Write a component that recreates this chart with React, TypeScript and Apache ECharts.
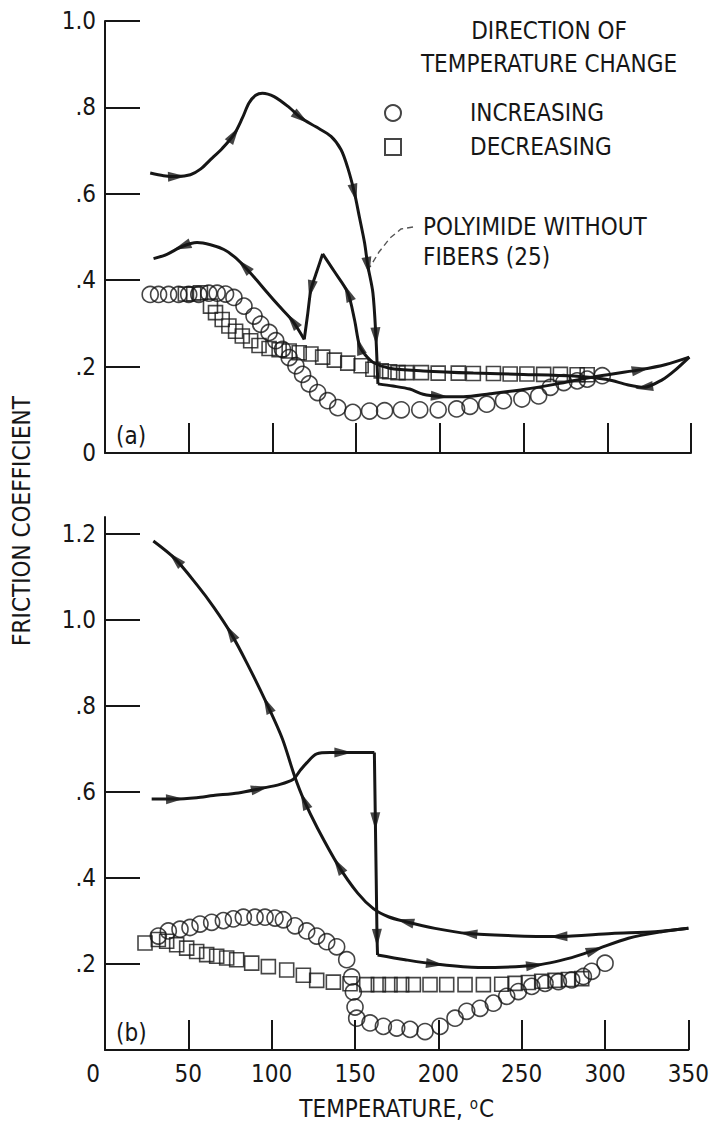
import React, { useEffect, useRef } from "react";
import * as echarts from "echarts";

// ---------- DATA ----------
// X axis (temperature, °C)
const xMin = 0;
const xMax = 350;
const xStep = 50;
// Y ticks
const yTicksA = [0, 0.2, 0.4, 0.6, 0.8, 1.0];
const yTicksB = [0, 0.2, 0.4, 0.6, 0.8, 1.0, 1.2];

// Panel (a) — open circles (temperature increasing)
const circA_T = [27, 32, 38, 44, 50, 56, 62, 67, 72, 77, 83, 89, 93, 98, 102, 106, 110, 114, 118, 122, 127, 133, 139, 148, 158, 167, 177, 188, 199, 210, 218, 228, 238, 249, 259, 266, 274, 282, 288, 297];
const circA_mu = [0.367, 0.367, 0.367, 0.367, 0.367, 0.367, 0.37, 0.37, 0.368, 0.36, 0.34, 0.317, 0.298, 0.279, 0.26, 0.24, 0.221, 0.202, 0.182, 0.16, 0.14, 0.121, 0.105, 0.094, 0.097, 0.098, 0.1, 0.1, 0.1, 0.102, 0.108, 0.113, 0.121, 0.125, 0.132, 0.152, 0.163, 0.167, 0.171, 0.179];
// Panel (a) — open squares (temperature decreasing)
const sqA_T = [48, 53, 57, 63, 66, 70, 74, 78, 82, 87, 92, 98, 104, 110, 116, 123, 130, 137, 145, 153, 160, 165, 170, 175, 180, 189, 199, 211, 220, 232, 242, 252, 262, 272, 282, 288];
const sqA_mu = [0.368, 0.368, 0.371, 0.34, 0.325, 0.309, 0.294, 0.282, 0.271, 0.26, 0.249, 0.242, 0.239, 0.236, 0.232, 0.229, 0.222, 0.215, 0.208, 0.202, 0.194, 0.19, 0.188, 0.186, 0.186, 0.186, 0.185, 0.185, 0.184, 0.184, 0.183, 0.183, 0.182, 0.182, 0.181, 0.181];

// Panel (a) — polyimide without fibers, path pieces in travel order
const aIncRise = [[27, 0.648], [35, 0.642], [43, 0.64], [51, 0.644], [57, 0.657], [63, 0.679], [70, 0.705], [77, 0.737], [82, 0.775], [86, 0.81], [90, 0.828], [94, 0.833], [101, 0.825], [110, 0.8], [117, 0.776], [126, 0.755], [135, 0.733], [141, 0.702], [145, 0.66], [149, 0.602], [152, 0.545], [155, 0.487], [157, 0.433], [160, 0.371], [161.8, 0.27], [162.8, 0.179], [163, 0.16]];
const aIncFlat = [[163, 0.16], [172, 0.155], [182, 0.148], [190, 0.136], [200, 0.131], [214, 0.13], [230, 0.137], [250, 0.147], [270, 0.16], [290, 0.175], [305, 0.184], [320, 0.193], [335, 0.205], [349, 0.222]];
const aDecReturn = [[349, 0.222], [340, 0.19], [333, 0.17], [322, 0.152], [312, 0.158], [300, 0.17], [280, 0.178], [250, 0.182], [220, 0.185], [190, 0.19], [170, 0.196], [160, 0.21], [155, 0.229]];
const aDecRightLeg = [[155, 0.229], [152, 0.248], [149, 0.309], [145, 0.371], [137, 0.42], [130, 0.461]];
const aDecLeftLeg = [[130, 0.461], [126.5, 0.42], [123, 0.379], [121, 0.32], [119, 0.263]];
const aDecLower = [[119, 0.263], [112, 0.306], [104, 0.34], [97, 0.371], [90, 0.403], [83, 0.433], [77, 0.455], [71, 0.471], [63, 0.482], [55, 0.487], [46, 0.478], [37, 0.46], [29, 0.45]];

// Panel (b) — open circles (increasing)
const circB_T = [32, 38, 45, 51, 57, 64, 71, 77, 83, 90, 96, 102, 107, 114, 121, 127, 133, 139, 145, 148, 149, 150, 151, 159, 167, 175, 183, 192, 201, 210, 217, 225, 233, 241, 248, 256, 264, 272, 280, 287, 292, 300];
const circB_mu = [0.265, 0.277, 0.281, 0.285, 0.293, 0.297, 0.301, 0.305, 0.309, 0.309, 0.309, 0.307, 0.303, 0.289, 0.277, 0.265, 0.252, 0.24, 0.21, 0.17, 0.135, 0.1, 0.074, 0.063, 0.055, 0.051, 0.048, 0.043, 0.055, 0.074, 0.09, 0.097, 0.109, 0.125, 0.136, 0.148, 0.155, 0.159, 0.163, 0.171, 0.183, 0.202];
// Panel (b) — open squares (decreasing)
const sqB_T = [24, 32, 37, 43, 49, 55, 61, 67, 73, 79, 88, 98, 109, 119, 127, 137, 147, 157, 164, 171, 178, 185, 195, 205, 216, 227, 238, 246, 254, 262, 270, 278, 286];
const sqB_mu = [0.249, 0.257, 0.253, 0.245, 0.237, 0.229, 0.222, 0.218, 0.214, 0.21, 0.202, 0.194, 0.186, 0.174, 0.162, 0.158, 0.154, 0.152, 0.152, 0.152, 0.152, 0.152, 0.152, 0.152, 0.152, 0.152, 0.153, 0.155, 0.157, 0.16, 0.162, 0.164, 0.166];

// Panel (b) — line path pieces
const bIncLeft = [[28, 0.584], [42, 0.584], [55, 0.587], [65, 0.592], [80, 0.598], [93, 0.608], [105, 0.618], [113, 0.63], [117, 0.65], [121, 0.668], [127, 0.689], [135, 0.692], [143, 0.692], [161.6, 0.692]];
const bIncDrop = [[161.6, 0.692], [162.2, 0.532], [162.7, 0.4], [163.2, 0.261], [163.5, 0.221]];
const bIncFlat = [[163.5, 0.221], [180, 0.21], [198, 0.2], [224, 0.192], [258, 0.197], [280, 0.215], [294, 0.233], [314, 0.26], [334, 0.275], [350, 0.283]];
const bDec = [[350, 0.283], [330, 0.275], [304, 0.271], [272, 0.264], [244, 0.266], [218, 0.271], [198, 0.283], [180, 0.299], [170, 0.31], [161, 0.329], [151.6, 0.365], [140, 0.429], [127.5, 0.516], [119.5, 0.58], [113.5, 0.64], [106.4, 0.724], [97.4, 0.803], [85.3, 0.899], [75.3, 0.971], [65.3, 1.03], [55.2, 1.082], [42.2, 1.142], [29, 1.184]];

// Arrowheads: vertex indices along each path piece
const arrowsA = [
  { path: aIncRise, at: [2, 7, 14, 19, 22, 24] },
  { path: aIncFlat, at: [4, 11] },
  { path: aDecReturn, at: [3] },
  { path: aDecRightLeg, at: [1, 3] },
  { path: aDecLeftLeg, at: [2] },
  { path: aDecLower, at: [1, 5, 10] },
];
const arrowsB = [
  { path: bIncLeft, at: [1, 5, 12] },
  { path: bIncDrop, at: [1, 3] },
  { path: bIncFlat, at: [2, 4, 6] },
  { path: bDec, at: [3, 5, 7, 11, 13, 16, 18, 21] },
];

// ---------- STYLE ----------
const INK = "#161616";
const FONT = "'Liberation Sans Narrow','DejaVu Sans Condensed','Roboto Condensed','Liberation Sans',sans-serif";

const zip = (a: number[], b: number[]) => a.map((v, i) => [v, b[i]]);

function yLabel(hideZero: boolean) {
  return (v: number) => {
    if (v === 0) return hideZero ? "" : "0";
    if (v < 1) return "." + Math.round(v * 10);
    return v.toFixed(1);
  };
}

function xAxisCfg(g: number, labels: boolean) {
  return {
    type: "value",
    gridIndex: g,
    min: xMin,
    max: xMax,
    interval: xStep,
    axisLine: { lineStyle: { color: INK, width: 2 } },
    axisTick: { inside: true, length: 30, lineStyle: { color: INK, width: 2 } },
    splitLine: { show: false },
    axisLabel: labels
      ? {
          show: true,
          color: INK,
          fontSize: 24,
          fontFamily: FONT,
          margin: 12,
          formatter: (v: number) => (v === 0 ? "{z|0}" : String(v)),
          rich: { z: { fontSize: 24, fontFamily: FONT, color: INK, padding: [0, 24, 0, 0] } },
        }
      : { show: false },
    ...(labels
      ? {
          name: "TEMPERATURE, {s|o}C",
          nameLocation: "middle",
          nameGap: 46,
          nameTextStyle: {
            color: INK,
            fontSize: 24,
            fontFamily: FONT,
            rich: { s: { fontSize: 15, fontFamily: FONT, color: INK, verticalAlign: "top", padding: [0, 1, 10, 0] } },
          },
        }
      : {}),
  };
}

function yAxisCfg(g: number, max: number, ticks: number[], hideZero: boolean) {
  return {
    type: "value",
    gridIndex: g,
    min: 0,
    max,
    interval: 0.2,
    axisLine: { show: true, lineStyle: { color: INK, width: 2 } },
    axisTick: { show: true, inside: true, length: 35, customValues: ticks, lineStyle: { color: INK, width: 2 } },
    splitLine: { show: false },
    axisLabel: {
      color: INK,
      fontSize: 24,
      fontFamily: FONT,
      margin: 9,
      customValues: ticks,
      formatter: yLabel(hideZero),
    },
  };
}

function lineS(data: number[][], g: number, smooth: number | boolean) {
  return {
    type: "line",
    name: "POLYIMIDE WITHOUT FIBERS",
    xAxisIndex: g,
    yAxisIndex: g,
    data,
    symbol: "none",
    smooth,
    silent: true,
    z: 3,
    lineStyle: { color: INK, width: 3 },
  };
}

function scatterS(name: string, data: number[][], g: number, symbol: string, size: number) {
  return {
    type: "scatter",
    name,
    xAxisIndex: g,
    yAxisIndex: g,
    data,
    symbol,
    symbolSize: size,
    silent: true,
    z: 4,
    itemStyle: { color: "rgba(255,255,255,0)", borderColor: INK, borderWidth: 1.6 },
  };
}

function text(t: string, x: number, y: number, align = "left", size = 24) {
  return {
    type: "text",
    x,
    y,
    silent: true,
    style: { text: t, fill: INK, fontSize: size, fontFamily: FONT, align, verticalAlign: "middle" },
  };
}

export default function App() {
  const ref = useRef<HTMLDivElement>(null);

  useEffect(() => {
    const el = ref.current;
    if (!el) return;
    const chart = echarts.init(el, null, { renderer: "svg" });

    const baseSeries: any[] = [
      lineS(aIncRise, 0, 0.3),
      lineS(aIncFlat, 0, 0.3),
      lineS(aDecReturn, 0, 0.3),
      lineS(aDecRightLeg, 0, 0.3),
      lineS(aDecLeftLeg, 0, 0.2),
      lineS(aDecLower, 0, 0.3),
      lineS(bIncLeft, 1, 0.3),
      lineS(bIncDrop, 1, false),
      lineS(bIncFlat, 1, 0.3),
      lineS(bDec, 1, 0.3),
      scatterS("INCREASING", zip(circA_T, circA_mu), 0, "circle", 16),
      scatterS("DECREASING", zip(sqA_T, sqA_mu), 0, "rect", 14),
      scatterS("INCREASING", zip(circB_T, circB_mu), 1, "circle", 16),
      scatterS("DECREASING", zip(sqB_T, sqB_mu), 1, "rect", 14),
    ];

    const option: any = {
      animation: false,
      backgroundColor: "#ffffff",
      grid: [
        { left: 105, top: 21, width: 586, height: 432 },
        { left: 105, top: 517, width: 586, height: 533 },
      ],
      xAxis: [xAxisCfg(0, false), xAxisCfg(1, true)],
      yAxis: [yAxisCfg(0, 1.0, yTicksA, false), yAxisCfg(1, 1.24, yTicksB, true)],
      legend: {
        orient: "vertical",
        left: 379,
        top: 96,
        itemWidth: 16,
        itemHeight: 16,
        itemGap: 10,
        selectedMode: false,
        data: [
          { name: "INCREASING", icon: "circle" },
          { name: "DECREASING", icon: "rect" },
        ],
        formatter: (n: string) => "{t|" + n + "}",
        textStyle: {
          color: INK,
          rich: { t: { fontSize: 24, fontFamily: FONT, color: INK, lineHeight: 20, padding: [0, 0, 0, 64] } },
        },
      },
      graphic: [
        text("DIRECTION OF", 549, 31, "center"),
        text("TEMPERATURE CHANGE", 549, 64, "center"),
        text("POLYIMIDE WITHOUT", 423, 227),
        text("FIBERS (25)", 423, 257),
        {
          type: "polyline",
          silent: true,
          shape: { points: [[413, 227], [401, 229], [390, 238], [379, 252], [370, 267]] },
          style: { stroke: "#555", lineWidth: 1.4, lineDash: [6, 4], fill: null },
        },
        text("(a)", 116, 436),
        text("(b)", 116, 1033),
        {
          type: "text",
          x: 22,
          y: 521,
          rotation: Math.PI / 2,
          silent: true,
          style: { text: "FRICTION COEFFICIENT", fill: INK, fontSize: 24, fontFamily: FONT, align: "center", verticalAlign: "middle" },
        },
      ],
      series: baseSeries,
    };
    chart.setOption(option);

    const buildArrows = (defs: { path: number[][]; at: number[] }[], g: number) => {
      const items: any[] = [];
      defs.forEach((d) => {
        d.at.forEach((i) => {
          const a = d.path[Math.max(0, i - 1)];
          const b = d.path[Math.min(d.path.length - 1, i + 1)];
          const pa = chart.convertToPixel({ xAxisIndex: g, yAxisIndex: g } as any, a) as number[];
          const pb = chart.convertToPixel({ xAxisIndex: g, yAxisIndex: g } as any, b) as number[];
          const ang = (Math.atan2(-(pb[1] - pa[1]), pb[0] - pa[0]) * 180) / Math.PI;
          items.push({ value: d.path[i], symbolRotate: ang - 90 });
        });
      });
      return {
        type: "scatter",
        name: "arrows",
        xAxisIndex: g,
        yAxisIndex: g,
        data: items,
        symbol: "triangle",
        symbolSize: [10, 18],
        silent: true,
        z: 6,
        itemStyle: { color: INK },
      };
    };

    chart.setOption({ series: [...baseSeries, buildArrows(arrowsA, 0), buildArrows(arrowsB, 1)] });

    return () => chart.dispose();
  }, []);

  return (
    <div
      ref={ref}
      style={{ position: "absolute", left: 0, top: 0, width: 712, height: 1125, background: "#fff" }}
    />
  );
}
